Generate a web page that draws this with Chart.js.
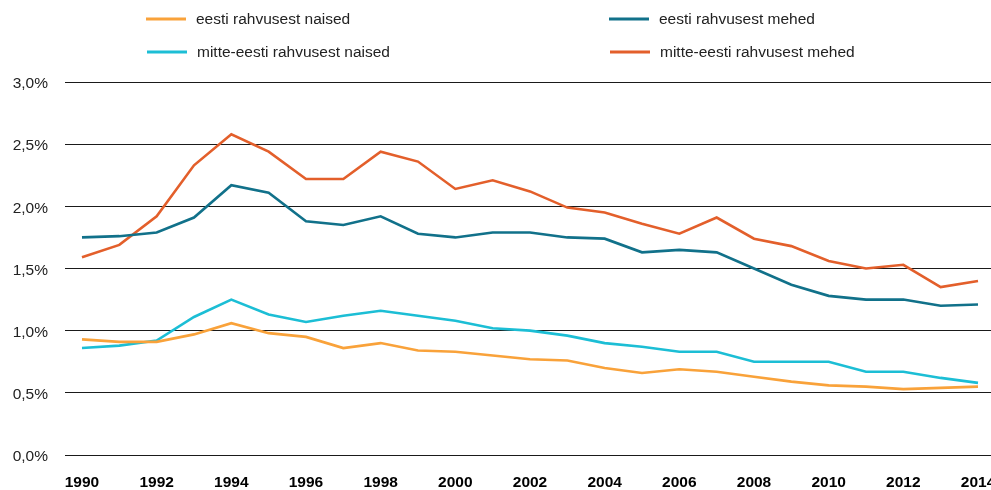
<!DOCTYPE html>
<html lang="et">
<head>
    <meta charset="UTF-8">
    <title>Rahvus ja sugu</title>
    <style>
        body {
            margin: 0;
            padding: 0;
            background: #fff;
        }
        #wrap {
            width: 991px;
            height: 490px;
            position: relative;
        }
    </style>
</head>
<body>
    <div id="wrap">
        <canvas id="chart"></canvas>
    </div>

    <script src="https://cdn.jsdelivr.net/npm/chart.js"></script>
    <script>
        const years = [1990, 1991, 1992, 1993, 1994, 1995, 1996, 1997, 1998, 1999, 2000, 2001, 2002,
                       2003, 2004, 2005, 2006, 2007, 2008, 2009, 2010, 2011, 2012, 2013, 2014];
        const yearTicks = [1990, 1992, 1994, 1996, 1998, 2000, 2002, 2004, 2006, 2008, 2010, 2012, 2014];
        const percentTicks = [0, 0.5, 1, 1.5, 2, 2.5, 3];

        // väärtused protsentides
        const eestiNaised = [0.93, 0.91, 0.91, 0.97, 1.06, 0.98, 0.95, 0.86, 0.90, 0.84, 0.83, 0.80, 0.77,
                             0.76, 0.70, 0.66, 0.69, 0.67, 0.63, 0.59, 0.56, 0.55, 0.53, 0.54, 0.55];
        const eestiMehed = [1.75, 1.76, 1.79, 1.91, 2.17, 2.11, 1.88, 1.85, 1.92, 1.78, 1.75, 1.79, 1.79,
                            1.75, 1.74, 1.63, 1.65, 1.63, 1.50, 1.37, 1.28, 1.25, 1.25, 1.20, 1.21];
        const mitteEestiNaised = [0.86, 0.88, 0.92, 1.11, 1.25, 1.13, 1.07, 1.12, 1.16, 1.12, 1.08, 1.02, 1.00,
                                  0.96, 0.90, 0.87, 0.83, 0.83, 0.75, 0.75, 0.75, 0.67, 0.67, 0.62, 0.58];
        const mitteEestiMehed = [1.59, 1.69, 1.92, 2.33, 2.58, 2.44, 2.22, 2.22, 2.44, 2.36, 2.14, 2.21, 2.12,
                                 1.99, 1.95, 1.86, 1.78, 1.91, 1.74, 1.68, 1.56, 1.50, 1.53, 1.35, 1.40];

        const FONT = '"Liberation Sans", Arial, sans-serif';

        function toPoints(values) {
            return values.map((v, i) => ({ x: years[i], y: v }));
        }

        function makeSeries(label, values, color) {
            return {
                label: label,
                data: toPoints(values),
                borderColor: color,
                backgroundColor: color,
                borderWidth: 2.6,
                pointRadius: 0,
                tension: 0,
                fill: false
            };
        }

        // legend kahes veerus nagu originaalis
        const legendSlots = [
            { x: 146, y: 19 },
            { x: 609, y: 19 },
            { x: 147, y: 52 },
            { x: 610, y: 52 }
        ];

        const twoColumnLegend = {
            id: 'twoColumnLegend',
            afterDraw(chart) {
                const ctx = chart.ctx;
                ctx.save();
                ctx.font = '15.5px ' + FONT;
                ctx.textBaseline = 'middle';
                chart.data.datasets.forEach((ds, i) => {
                    const slot = legendSlots[i];
                    ctx.strokeStyle = ds.borderColor;
                    ctx.lineWidth = 3;
                    ctx.beginPath();
                    ctx.moveTo(slot.x, slot.y);
                    ctx.lineTo(slot.x + 40, slot.y);
                    ctx.stroke();
                    ctx.fillStyle = '#222';
                    ctx.fillText(ds.label, slot.x + 50, slot.y + 1);
                });
                ctx.restore();
            }
        };

        new Chart(document.getElementById('chart'), {
            type: 'line',
            data: {
                datasets: [
                    makeSeries('eesti rahvusest naised', eestiNaised, '#F9A23A'),
                    makeSeries('eesti rahvusest mehed', eestiMehed, '#11718A'),
                    makeSeries('mitte-eesti rahvusest naised', mitteEestiNaised, '#1CBED5'),
                    makeSeries('mitte-eesti rahvusest mehed', mitteEestiMehed, '#E35F2B')
                ]
            },
            options: {
                responsive: true,
                maintainAspectRatio: false,
                animation: false,
                layout: {
                    padding: { top: 82, left: 12, right: 0, bottom: 0 }
                },
                plugins: {
                    legend: { display: false },
                    tooltip: { enabled: false }
                },
                scales: {
                    x: {
                        type: 'linear',
                        min: 1989.545,
                        max: 2014.348,
                        afterBuildTicks: axis => {
                            axis.ticks = yearTicks.map(v => ({ value: v }));
                        },
                        afterFit: axis => {
                            axis.height = 35;
                            axis.paddingLeft = 0;
                            axis.paddingRight = 0;
                        },
                        grid: { display: false, drawTicks: false },
                        border: { display: false },
                        ticks: {
                            padding: 20,
                            color: '#000',
                            maxRotation: 0,
                            autoSkip: false,
                            font: { family: FONT, size: 15.5, weight: 'bold', lineHeight: 1 },
                            callback: v => String(v)
                        }
                    },
                    y: {
                        min: 0,
                        max: 3,
                        afterBuildTicks: axis => {
                            axis.ticks = percentTicks.map(v => ({ value: v }));
                        },
                        afterFit: axis => {
                            axis.width = 53;
                            axis.paddingTop = 0;
                            axis.paddingBottom = 0;
                        },
                        grid: { color: '#1a1a1a', lineWidth: 1, drawTicks: false },
                        border: { display: false },
                        ticks: {
                            padding: 17,
                            color: '#222',
                            labelOffset: 2,
                            font: { family: FONT, size: 15.5 },
                            callback: v => v.toFixed(1).replace('.', ',') + '%'
                        }
                    }
                }
            },
            plugins: [twoColumnLegend]
        });
    </script>
</body>
</html>
